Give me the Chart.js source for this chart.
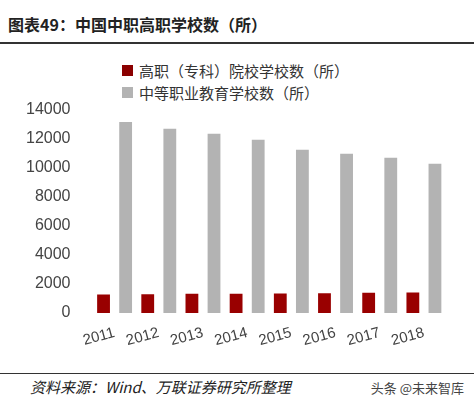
<!DOCTYPE html>
<html><head><meta charset="utf-8">
<script src="https://cdn.jsdelivr.net/npm/chart.js@4"></script>
<style>
body{margin:0;width:474px;height:414px;background:#fff;font-family:"Noto Sans CJK SC","Noto Sans",sans-serif;position:relative;overflow:hidden}
#title{position:absolute;left:8px;top:12px;font-size:16px;font-weight:bold;color:#222}
#tl{position:absolute;left:0;top:42px;width:474px;height:2px;background:#333}
.lg{position:absolute;left:122px;font-size:15px;color:#333;display:flex;align-items:center}
.sw{width:11px;height:11px;margin-right:6px}
#box{position:absolute;left:0;top:86px;width:474px;height:267px}
#sl{position:absolute;left:0;top:373px;width:474px;height:1px;background:#333}
#src{position:absolute;left:30px;top:376px;font-size:15px;font-style:italic;color:#222}
#wm{position:absolute;right:10px;top:378px;font-size:13px;color:#444}
</style></head><body>
<div id="title">图表49：中国中职高职学校数（所）</div>
<div id="tl"></div>
<div class="lg" style="top:60px"><div class="sw" style="background:#8b0000"></div>高职（专科）院校学校数（所）</div>
<div class="lg" style="top:82px"><div class="sw" style="background:#b3b3b3"></div>中等职业教育学校数（所）</div>
<div id="box"><canvas id="c"></canvas></div>
<div id="sl"></div>
<div id="src">资料来源：Wind、万联证券研究所整理</div>
<div id="wm">头条 @未来智库</div>
<script>
const years=["2011","2012","2013","2014","2015","2016","2017","2018"];
const higherVoc=[1280,1297,1321,1327,1341,1359,1388,1418];
const secondaryVoc=[13150,12680,12330,11920,11230,10960,10690,10270];
new Chart(document.getElementById('c'),{type:'bar',
data:{labels:years,datasets:[
{label:'高职（专科）院校学校数（所）',data:higherVoc,backgroundColor:'#990000',barPercentage:0.58,categoryPercentage:1},
{label:'中等职业教育学校数（所）',data:secondaryVoc,backgroundColor:'#b3b3b3',barPercentage:0.58,categoryPercentage:1}]},
options:{responsive:true,maintainAspectRatio:false,animation:false,
layout:{padding:{left:12,right:28,top:3}},
plugins:{legend:{display:false},tooltip:{enabled:false}},
scales:{x:{grid:{display:false},border:{display:false},ticks:{color:'#444',font:{size:15},minRotation:15,maxRotation:15}},
y:{min:0,max:14000,grid:{display:false},border:{display:false},ticks:{stepSize:2000,color:'#444',font:{size:16},padding:14,callback:v=>String(v)}}}}});
</script></body></html>
